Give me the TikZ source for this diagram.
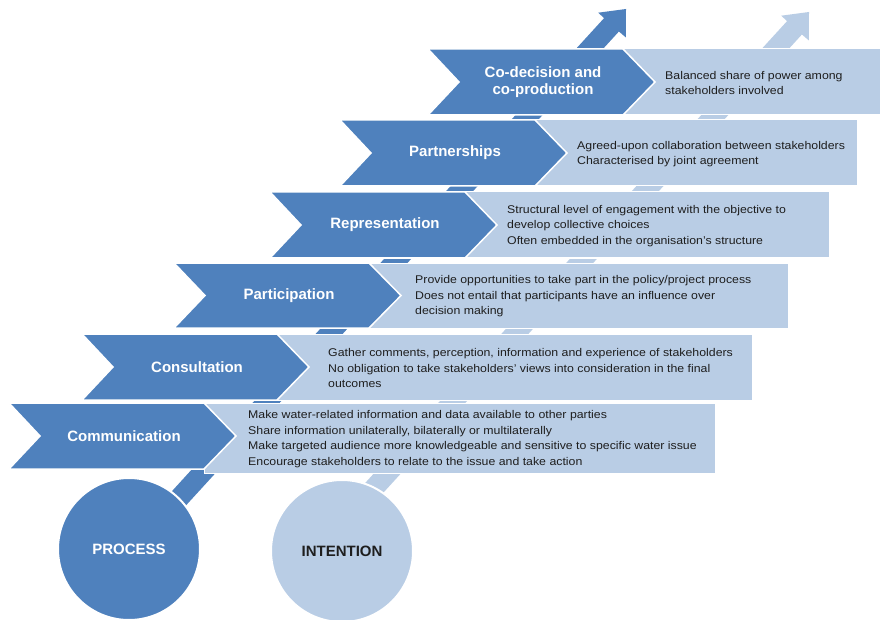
\documentclass[tikz,border=0pt]{standalone}
\usepackage{fontspec}
\setmainfont{Liberation Sans}
\newfontfamily\descfont[FakeStretch=1.1]{Liberation Sans}
\definecolor{dkblue}{HTML}{4F81BD}
\definecolor{ltblue}{HTML}{B9CDE5}
\definecolor{txt}{HTML}{1E1E1E}
\tikzset{
  chev/.style={fill=dkblue, draw=white, line width=1.5pt, line join=miter},
  lightbox/.style={fill=ltblue, draw=white, line width=1pt},
  lab/.style={text=white, font=\fontsize{15}{17}\selectfont\bfseries, align=center, inner sep=0pt},
  desc/.style={text=txt, font=\descfont\fontsize{11.2}{15.6}\selectfont, align=left, anchor=west, inner sep=0pt},
  bigcirc/.style={circle, minimum size=142pt, inner sep=0pt, draw=white, line width=2pt, font=\fontsize{15}{17}\selectfont\bfseries}
}
\newcommand{\ladderrow}[9]{%
  \path[lightbox] (#2+195,#3) rectangle (#6,#5);
  \path[chev] (#2,#3) -- (#2+195,#3) -- (#2+227,{(#3+#4)/2}) -- (#2+195,#4) -- (#2,#4) -- (#2+31,{(#3+#4)/2}) -- cycle;
  \node[lab] (#1) at ({#2+115},{(#3+#4)/2}) {#8};
  \node[desc] (#1d) at (#7,{(#3+#5)/2+1}) {#9};
}
\begin{document}
\begin{tikzpicture}[x=1pt,y=-1pt]
\useasboundingbox[fill=white] (0,0) rectangle (880,620);
\clip (0,0) rectangle (880,620);
% diagonal arrows
\fill[dkblue] (142.6,523.3) -- (604.1,18.1) -- (598.2,12.7) -- (626,9) -- (625.8,37.4) -- (618.9,31.5) -- (157.4,536.7) -- cycle;
\begin{scope}[shift={(183,3)}]
\fill[ltblue] (142.6,523.3) -- (604.1,18.1) -- (598.2,12.7) -- (626,9) -- (625.8,37.4) -- (618.9,31.5) -- (157.4,536.7) -- cycle;
\end{scope}
% circles
\node[bigcirc, fill=dkblue, text=white] (process) at (129,549) {PROCESS};
\node[bigcirc, fill=ltblue, text=txt] (intention) at (342,551) {INTENTION};
% rows
\ladderrow{codec}{428}{49}{115}{115}{882}{665}{Co-decision and\\co-production}{Balanced share of power among\\stakeholders involved}
\ladderrow{partn}{340}{120}{186}{186}{857}{577}{Partnerships}{Agreed-upon collaboration between stakeholders\\Characterised by joint agreement}
\ladderrow{repre}{270}{192}{258}{258}{829}{507}{Representation}{Structural level of engagement with the objective to\\develop collective choices\\Often embedded in the organisation’s structure}
\ladderrow{parti}{174}{263}{328}{328}{788}{415}{Participation}{Provide opportunities to take part in the policy/project process\\Does not entail that participants have an influence over\\decision making}
\ladderrow{consu}{82}{334}{400}{400}{752}{328}{Consultation}{Gather comments, perception, information and experience of stakeholders\\No obligation to take stakeholders’ views into consideration in the final\\outcomes}
\ladderrow{commu}{9}{403}{469}{473}{715}{248}{Communication}{Make water-related information and data available to other parties\\Share information unilaterally, bilaterally or multilaterally\\Make targeted audience more knowledgeable and sensitive to specific water issue\\Encourage stakeholders to relate to the issue and take action}
\end{tikzpicture}
\end{document}
